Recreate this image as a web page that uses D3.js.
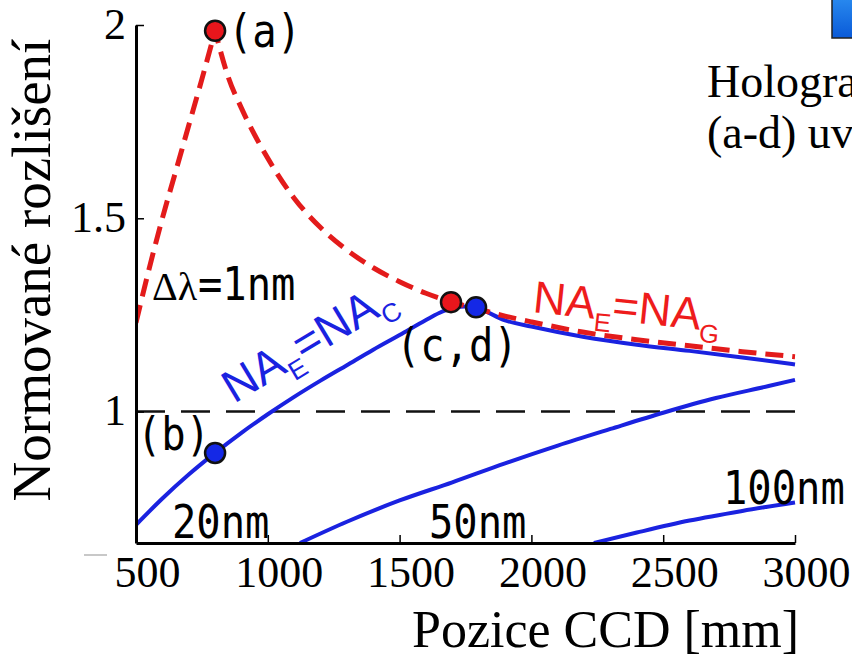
<!DOCTYPE html>
<html>
<head>
<meta charset="utf-8">
<script src="https://cdn.jsdelivr.net/npm/d3@7"></script>
<style>
  html, body { margin: 0; padding: 0; background: #fff; overflow: hidden; }
  svg { display: block; }
</style>
</head>
<body>
<svg id="chart" width="852" height="659"></svg>
<script>
// ---------------- DATA ----------------
const xTicks = [500, 1000, 1500, 2000, 2500, 3000];
const xTickLabels = ["500", "1000", "1500", "2000", "2500", "3000"];
const yTicks = [1, 1.5, 2];
const yTickLabels = ["1", "1.5", "2"];
const xLabel = "Pozice CCD [mm]";
const yLabel = "Normované rozlišení";

// red dashed: NA_E = NA_G  (peak at index 6)
const redPos = [500, 550, 600, 650, 700, 750, 800, 850, 900, 1000, 1100, 1200, 1300, 1400, 1500, 1600, 1700, 1800, 1900, 2000, 2200, 2400, 2600, 2800, 3000];
const redVal = [1.23, 1.37, 1.50, 1.62, 1.74, 1.86, 1.985, 1.865, 1.785, 1.655, 1.552, 1.476, 1.418, 1.372, 1.336, 1.306, 1.283, 1.265, 1.247, 1.232, 1.205, 1.186, 1.170, 1.155, 1.142];
const redPeakIndex = 6;

// blue: 20 nm (NA_E = NA_C)
const blue20Pos = [500, 600, 700, 800, 900, 1000, 1100, 1200, 1300, 1400, 1500, 1600, 1650, 1700, 1750, 1800, 1900, 2000, 2200, 2400, 2600, 2800, 3000];
const blue20Val = [0.707, 0.775, 0.837, 0.893, 0.945, 0.993, 1.038, 1.080, 1.120, 1.160, 1.198, 1.237, 1.255, 1.268, 1.272, 1.266, 1.236, 1.220, 1.193, 1.173, 1.157, 1.140, 1.122];

// blue: 50 nm
const blue50Pos = [1122, 1300, 1500, 1700, 1900, 2100, 2300, 2500, 2700, 2900, 3000];
const blue50Val = [0.66, 0.715, 0.770, 0.817, 0.866, 0.912, 0.955, 0.997, 1.035, 1.066, 1.082];

// blue: 100 nm
const blue100Pos = [2237, 2400, 2600, 2800, 3000];
const blue100Val = [0.66, 0.687, 0.718, 0.743, 0.765];

// marked points (a), (b), (c), (d)
const pointNames = ["a", "b", "c", "d"];
const pointPos = [800, 800, 1695, 1790];
const pointVal = [1.985, 0.893, 1.283, 1.270];
const pointColors = ["#e8161c", "#1428e6", "#e8161c", "#1428e6"];

// ---------------- CHART ----------------
const svg = d3.select("#chart");
const x = d3.scaleLinear().domain([500, 3000]).range([136, 795]);
const y = d3.scaleLinear().domain([0.66, 2]).range([543, 25]);

const SERIF = "'Liberation Serif', 'Times New Roman', serif";
const MONO = "'DejaVu Sans Mono', monospace";
const SANS = "'Liberation Sans', Arial, sans-serif";

const defs = svg.append("defs");
defs.append("clipPath").attr("id", "plot")
  .append("rect").attr("x", x(500)).attr("y", 0)
  .attr("width", x(3000) - x(500) + 10).attr("height", y(0.66));

// reference line at 1
svg.append("line")
  .attr("x1", x(500)).attr("x2", x(3000))
  .attr("y1", y(1)).attr("y2", y(1))
  .attr("stroke", "#111").attr("stroke-width", 2.5)
  .attr("stroke-dasharray", "29,16");

const line = d3.line().x(d => x(d[0])).y(d => y(d[1])).curve(d3.curveMonotoneX);
const zip = (a, b) => a.map((v, i) => [v, b[i]]);

const g = svg.append("g").attr("clip-path", "url(#plot)");

const blueColor = "#1a22e0";
[[blue20Pos, blue20Val], [blue50Pos, blue50Val], [blue100Pos, blue100Val]].forEach(([p, v]) => {
  g.append("path").attr("d", line(zip(p, v)))
    .attr("fill", "none").attr("stroke", blueColor).attr("stroke-width", 4);
});

// red dashed, split at the cusp
const redPts = zip(redPos, redVal);
const redPath = line(redPts.slice(0, redPeakIndex + 1)) + line(redPts.slice(redPeakIndex)).replace(/^M/, "L");
g.append("path").attr("d", redPath)
  .attr("fill", "none").attr("stroke", "#e31b1b").attr("stroke-width", 5)
  .attr("stroke-dasharray", "18,9");

// axes
const xAxis = d3.axisBottom(x).tickValues(xTicks).tickFormat((d, i) => xTickLabels[i])
  .tickSizeInner(-8).tickSizeOuter(0);
const gx = svg.append("g").attr("transform", `translate(0,${y(0.66)})`).call(xAxis);
gx.select(".domain").attr("stroke", "#000").attr("stroke-width", 3);
gx.selectAll(".tick line").attr("stroke", "#000").attr("stroke-width", 1.5);
gx.selectAll(".tick text").attr("font-family", SERIF).attr("font-size", 44)
  .attr("fill", "#000").attr("x", 11).attr("y", 44).attr("dy", 0);

const yAxis = d3.axisLeft(y).tickValues(yTicks).tickFormat((d, i) => yTickLabels[i])
  .tickSizeInner(-8).tickSizeOuter(0);
const gy = svg.append("g").attr("transform", `translate(${x(500)},0)`).call(yAxis);
gy.select(".domain").attr("stroke", "#000").attr("stroke-width", 3);
gy.selectAll(".tick line").attr("stroke", "#000").attr("stroke-width", 1.5);
gy.selectAll(".tick text").attr("font-family", SERIF).attr("font-size", 44)
  .attr("fill", "#000").attr("x", -10).attr("dy", 13);

// axis titles
svg.append("text").attr("x", 412).attr("y", 647)
  .attr("font-family", SERIF).attr("font-size", 52).attr("fill", "#000")
  .text(xLabel);
svg.append("text").attr("transform", "translate(50,270) rotate(-90)")
  .attr("text-anchor", "middle")
  .attr("font-family", SERIF).attr("font-size", 55).attr("fill", "#000")
  .text(yLabel);

// small artifact dash near the axis origin
svg.append("line").attr("x1", 84).attr("x2", 107).attr("y1", 555).attr("y2", 555)
  .attr("stroke", "#c8c8c8").attr("stroke-width", 2);

// points
pointNames.forEach((n, i) => {
  svg.append("circle").attr("cx", x(pointPos[i])).attr("cy", y(pointVal[i])).attr("r", 10)
    .attr("fill", pointColors[i]).attr("stroke", "#111").attr("stroke-width", 2.5);
});

// annotations (narrow, tall monospace)
function mono(t, px, py) {
  svg.append("text").attr("transform", `translate(${px},${py}) scale(0.88,1)`)
    .attr("font-family", MONO).attr("font-size", 46).attr("fill", "#000")
    .text(t);
}
mono("(a)", 228, 47);
mono("(b)", 137, 450);
mono("(c,d)", 396, 361);
mono("20nm", 172, 538);
mono("50nm", 429, 538);
mono("100nm", 723, 504);

const dl = svg.append("text").attr("x", 152).attr("y", 300).attr("fill", "#000");
dl.append("tspan").attr("font-family", SERIF).attr("font-size", 40).text("Δλ");
svg.append("text").attr("transform", "translate(198,300) scale(0.88,1)")
  .attr("font-family", MONO).attr("font-size", 46).attr("fill", "#000").text("=1nm");

function naLabel(px, py, rot, sub1, sub2, color, size) {
  const t = svg.append("text").attr("transform", `translate(${px},${py}) rotate(${rot})`)
    .attr("font-family", SANS).attr("fill", color).attr("font-size", size);
  t.append("tspan").text("NA");
  t.append("tspan").attr("font-size", size * 0.57).attr("dy", 12).text(sub1);
  t.append("tspan").attr("dy", -12).text("=NA");
  t.append("tspan").attr("font-size", size * 0.57).attr("dy", 12).text(sub2);
}
naLabel(234, 404, -31, "E", "C", "#1a22e0", 46);
naLabel(532, 312, 6, "E", "G", "#ee1c1c", 45);

// partial text on the right (cut by the window edge, as in the original)
svg.append("text").attr("x", 707).attr("y", 97)
  .attr("font-family", SERIF).attr("font-size", 46).attr("fill", "#000").text("Hologra");
svg.append("text").attr("x", 707).attr("y", 148)
  .attr("font-family", SERIF).attr("font-size", 46).attr("fill", "#000").text("(a-d) uv");

// partial blue button, top right
const grad = defs.append("linearGradient").attr("id", "btn")
  .attr("x1", 0).attr("y1", 0).attr("x2", 0).attr("y2", 1);
grad.append("stop").attr("offset", "0%").attr("stop-color", "#2a8cf0");
grad.append("stop").attr("offset", "100%").attr("stop-color", "#0a5ad8");
svg.append("rect").attr("x", 832).attr("y", -4).attr("width", 30).attr("height", 42)
  .attr("fill", "url(#btn)").attr("stroke", "#222").attr("stroke-width", 1.5);
</script>
</body>
</html>
